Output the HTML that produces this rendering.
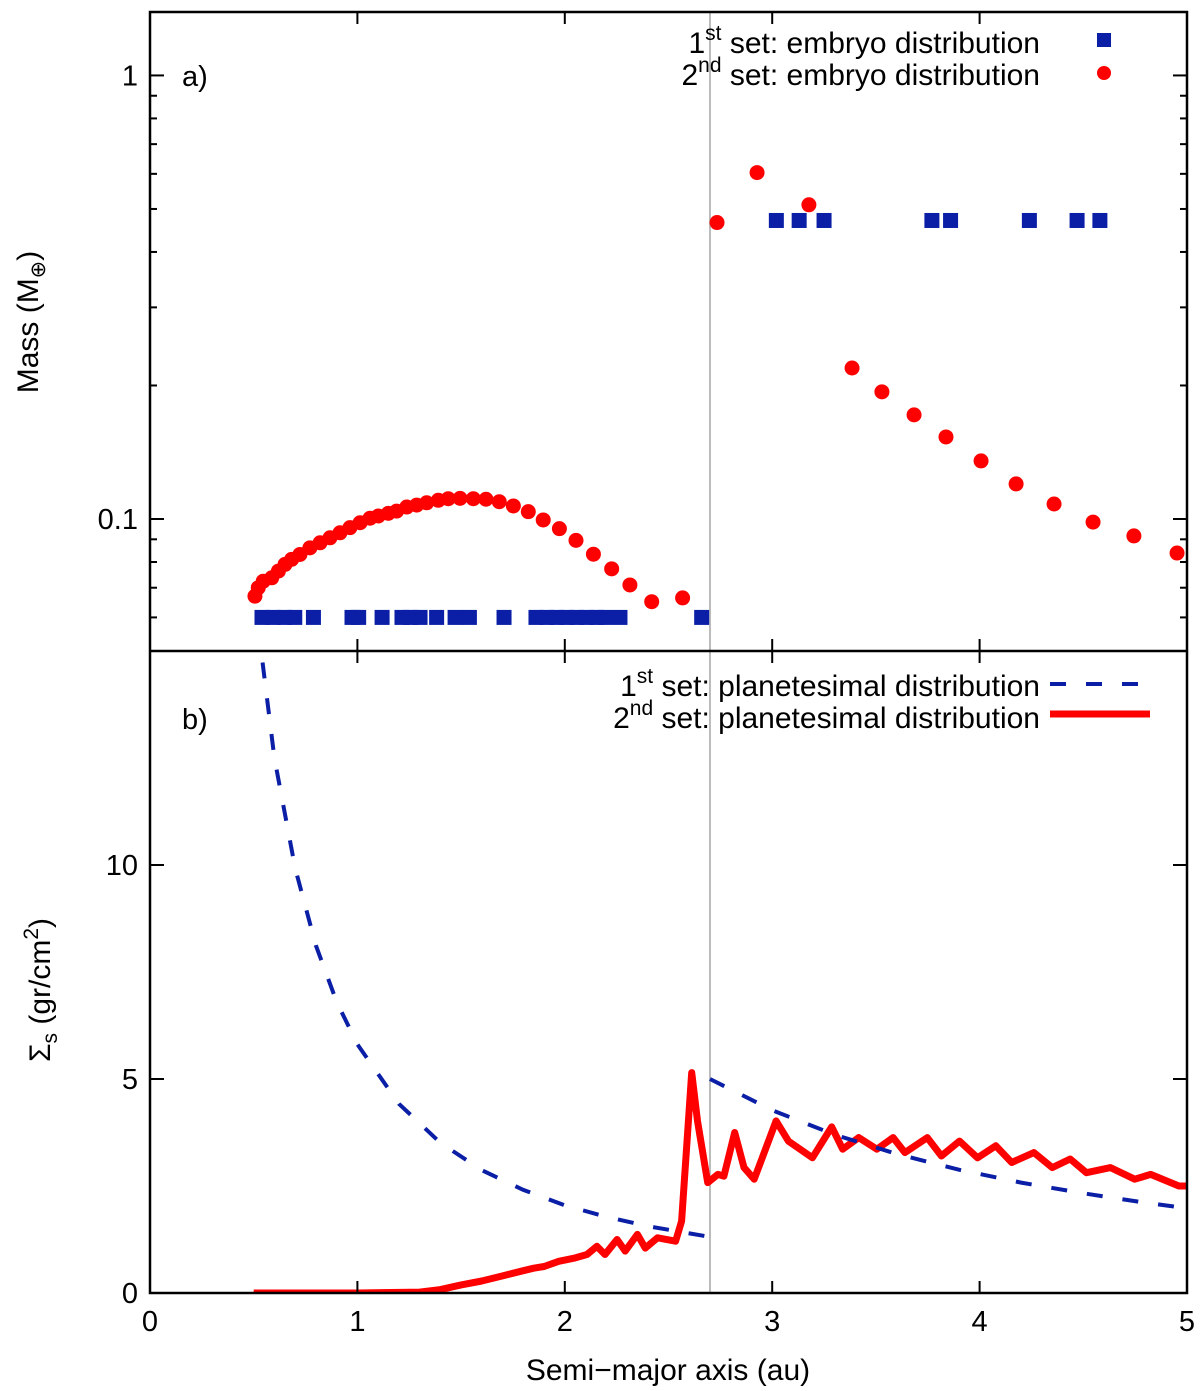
<!DOCTYPE html>
<html><head><meta charset="utf-8">
<style>
html,body{margin:0;padding:0;background:#fff;}
svg{display:block;font-family:"Liberation Sans",sans-serif;}
</style></head>
<body>
<svg id="chart" width="1200" height="1391" viewBox="0 0 1200 1391" xmlns="http://www.w3.org/2000/svg">
<g id="grid"></g>
<g id="marks"></g>
<g id="frame"></g>
</svg>
<script>
// ---- data ----
const xTicks = [0,1,2,3,4,5];
const massTicks = [0.1,1];
const sigmaTicks = [0,5,10];
const snowLine = 2.7;
// 1st set embryos (blue squares)
const emb1A = [0.540,0.594,0.649,0.698,0.788,0.974,1.006,1.119,1.215,1.257,1.302,1.382,1.471,1.540,1.707,1.861,1.913,1.961,2.009,2.057,2.106,2.154,2.194,2.266,2.660,3.02,3.13,3.25,3.77,3.86,4.24,4.47,4.58];
const emb1M = [0.060,0.060,0.060,0.060,0.060,0.060,0.060,0.060,0.060,0.060,0.060,0.060,0.060,0.060,0.060,0.060,0.060,0.060,0.060,0.060,0.060,0.060,0.060,0.060,0.060,0.471,0.471,0.471,0.471,0.471,0.471,0.471,0.471];
// 2nd set embryos (red circles)
const emb2A = [0.506,0.522,0.546,0.587,0.619,0.651,0.683,0.723,0.771,0.820,0.868,0.916,0.964,1.013,1.061,1.101,1.149,1.189,1.238,1.286,1.334,1.390,1.438,1.495,1.559,1.620,1.684,1.752,1.824,1.896,1.974,2.054,2.138,2.226,2.314,2.419,2.568,2.734,2.927,3.177,3.385,3.529,3.684,3.838,4.007,4.176,4.359,4.547,4.744,4.952];
const emb2M = [0.067,0.070,0.0724,0.0737,0.0763,0.0790,0.0811,0.0832,0.0861,0.0884,0.0907,0.0931,0.0956,0.0981,0.1004,0.1016,0.1030,0.1042,0.1064,0.1075,0.1088,0.1102,0.1111,0.1113,0.1111,0.1108,0.1094,0.1070,0.1039,0.0995,0.0951,0.0895,0.0833,0.0772,0.0710,0.0651,0.0664,0.466,0.604,0.511,0.219,0.1935,0.1717,0.1531,0.1352,0.120,0.1081,0.0984,0.0916,0.0838];
// 1st set planetesimal surface density (inner and outer of snow line)
const pl1InA = [0.5,0.6,0.7,0.8,0.9,1.0,1.2,1.4,1.6,1.8,2.0,2.2,2.4,2.7];
const pl1InS = [16.4,12.5,9.92,8.12,6.80,5.81,4.42,3.51,2.87,2.41,2.05,1.78,1.56,1.31];
const pl1OutA = [2.7,3.0,3.3,3.6,3.9,4.2,4.5,4.8,5.0];
const pl1OutS = [5.0,4.27,3.70,3.25,2.88,2.58,2.33,2.11,1.98];
// 2nd set planetesimal surface density
const pl2A = [0.5,1.0,1.3,1.4,1.5,1.6,1.7,1.8,1.85,1.9,1.971,2.05,2.107,2.155,2.194,2.252,2.291,2.35,2.388,2.447,2.534,2.563,2.590,2.612,2.64,2.689,2.738,2.767,2.819,2.864,2.913,3.019,3.078,3.194,3.287,3.34,3.417,3.505,3.583,3.64,3.748,3.816,3.903,3.99,4.078,4.155,4.262,4.35,4.437,4.515,4.631,4.748,4.825,4.961,5.0];
const pl2S = [0,0,0.02,0.08,0.19,0.28,0.40,0.52,0.58,0.62,0.74,0.82,0.90,1.09,0.90,1.25,0.98,1.37,1.05,1.29,1.21,1.68,3.6,5.15,4.02,2.58,2.77,2.73,3.75,2.93,2.66,4.02,3.55,3.16,3.88,3.36,3.63,3.36,3.63,3.28,3.63,3.20,3.55,3.16,3.44,3.05,3.28,2.93,3.13,2.81,2.93,2.66,2.77,2.5,2.5];

// ---- geometry ----
const L=150,R=1187,T1=12,B1=651,T2=651,B2=1293;
const X=a=>L+(a-0)/5*(R-L);
const logMin=Math.log10(0.0504),logMax=Math.log10(1.39);
const YM=m=>B1-(Math.log10(m)-logMin)/(logMax-logMin)*(B1-T1);
const YS=s=>B2-s/15*(B2-T2);
const NS="http://www.w3.org/2000/svg";
function mk(tag,attrs,parent){const e=document.createElementNS(NS,tag);for(const k in attrs)e.setAttribute(k,attrs[k]);parent.appendChild(e);return e;}
const grid=document.getElementById('grid'),marks=document.getElementById('marks'),frame=document.getElementById('frame');

const defs=mk('defs',{},document.getElementById('chart'));
const c1=mk('clipPath',{id:'c1'},defs);mk('rect',{x:L,y:T1,width:R-L,height:B1-T1},c1);
const c2=mk('clipPath',{id:'c2'},defs);mk('rect',{x:L,y:T2,width:R-L,height:B2-T2},c2);

let sl=mk('line',{x1:X(snowLine),x2:X(snowLine),y1:T1,y2:B2,stroke:'#bbbbbb','stroke-width':2},grid);



let f1=mk('rect',{x:L,y:T1,width:R-L,height:B2-T1,fill:'none',stroke:'#000','stroke-width':2.5},frame);


let mid=mk('line',{x1:L,x2:R,y1:B1,y2:B1,stroke:'#000','stroke-width':2.5},frame);



xTicks.forEach(v=>{
  const x=X(v);
  [[T1,T1+12],[B1-12,B1+12],[B2-12,B2]].forEach(p=>{
    let t=mk('line',{x1:x,x2:x,y1:p[0],y2:p[1],stroke:'#000','stroke-width':2},frame);
    
    
  });
  let tx=mk('text',{x:x,y:B2+38,'font-size':29,'text-anchor':'middle'},frame);tx.textContent=v;
  
  
});
const minor=[0.06,0.07,0.08,0.09,0.2,0.3,0.4,0.5,0.6,0.7,0.8,0.9];
minor.forEach(m=>{const y=YM(m);[[L,L+7],[R-7,R]].forEach(p=>{let t=mk('line',{x1:p[0],x2:p[1],y1:y,y2:y,stroke:'#000','stroke-width':2},frame);
  
  });});
massTicks.forEach(m=>{const y=YM(m);[[L,L+14],[R-14,R]].forEach(p=>{let t=mk('line',{x1:p[0],x2:p[1],y1:y,y2:y,stroke:'#000','stroke-width':2},frame);
  
  });
  let tx=mk('text',{x:L-12,y:y+10,'font-size':29,'text-anchor':'end'},frame);tx.textContent=m;
  
  });
sigmaTicks.forEach(s=>{const y=YS(s);[[L,L+14],[R-14,R]].forEach(p=>{let t=mk('line',{x1:p[0],x2:p[1],y1:y,y2:y,stroke:'#000','stroke-width':2},frame);
  
  });
  let tx=mk('text',{x:L-12,y:y+10,'font-size':29,'text-anchor':'end'},frame);tx.textContent=s;
  
  });

const g1=mk('g',{'clip-path':'url(#c1)'},marks);
const g2=mk('g',{'clip-path':'url(#c2)'},marks);
emb1A.forEach((a,i)=>{let r=mk('rect',{x:X(a)-7.5,y:YM(emb1M[i])-7.5,width:15,height:15,fill:'#0a1ea6'},g1);
  
  });
emb2A.forEach((a,i)=>{let c=mk('circle',{cx:X(a),cy:YM(emb2M[i]),r:7.5,fill:'#ff0000'},g1);
  
  });
const pth=(A,S)=>A.map((a,i)=>(i?'L':'M')+X(a).toFixed(1)+','+YS(S[i]).toFixed(1)).join(' ');
let p2=mk('path',{d:pth(pl2A,pl2S),fill:'none',stroke:'#ff0000','stroke-width':7,'stroke-linejoin':'round'},g2);


let p1a=mk('path',{d:pth(pl1InA,pl1InS),fill:'none',stroke:'#0a1ea6','stroke-width':4,'stroke-dasharray':'16 20'},g2);


let p1b=mk('path',{d:pth(pl1OutA,pl1OutS),fill:'none',stroke:'#0a1ea6','stroke-width':4,'stroke-dasharray':'16 20'},g2);


</script>
<svg style="position:absolute;left:0;top:0" width="1200" height="1391" font-family="Liberation Sans, sans-serif">
<text x="182" y="86" font-size="29">a)</text>
<text x="182" y="729" font-size="29">b)</text>
<g>
<text x="1040" y="53" font-size="30" text-anchor="end">1<tspan font-size="21" dy="-13">st</tspan><tspan dy="13"> set: embryo distribution</tspan></text>
<text x="1040" y="85" font-size="30" text-anchor="end">2<tspan font-size="21" dy="-13">nd</tspan><tspan dy="13"> set: embryo distribution</tspan></text>
<rect x="1097" y="33" width="14" height="14" fill="#0a1ea6"/>
<circle cx="1104" cy="73" r="7" fill="#ff0000"/>
</g>
<g>
<text x="1040" y="696" font-size="30" text-anchor="end">1<tspan font-size="21" dy="-13">st</tspan><tspan dy="13"> set: planetesimal distribution</tspan></text>
<text x="1040" y="728" font-size="30" text-anchor="end">2<tspan font-size="21" dy="-13">nd</tspan><tspan dy="13"> set: planetesimal distribution</tspan></text>
<line x1="1050" x2="1150" y1="684" y2="684" stroke="#0a1ea6" stroke-width="4" stroke-dasharray="16 20"/>
<line x1="1050" x2="1150" y1="714" y2="714" stroke="#ff0000" stroke-width="7"/>
</g>
<text transform="translate(38,322) rotate(-90)" font-size="30" text-anchor="middle">Mass (M<tspan font-size="21" dy="7">⊕</tspan><tspan dy="-7">)</tspan></text>
<text transform="translate(50,990) rotate(-90)" font-size="30" text-anchor="middle">Σ<tspan font-size="21" dy="7">s</tspan><tspan dy="-7"> (gr/cm</tspan><tspan font-size="21" dy="-12">2</tspan><tspan dy="12">)</tspan></text>
<text x="668" y="1380" font-size="30" text-anchor="middle">Semi−major axis (au)</text>
</svg>
</body></html>
